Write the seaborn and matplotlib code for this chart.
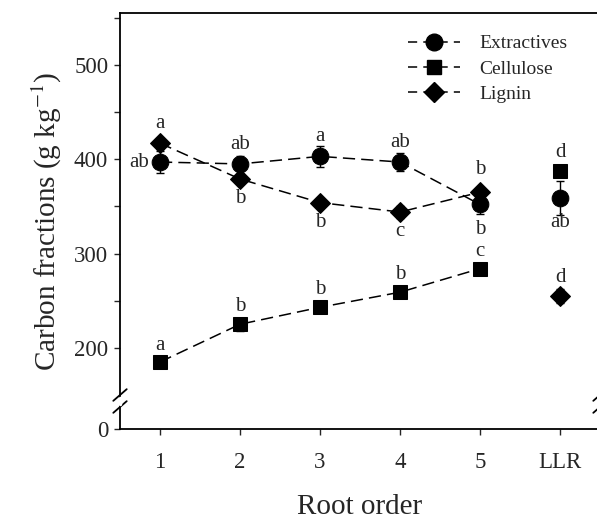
import numpy as np
import pandas as pd
import matplotlib
matplotlib.use("Agg")
import matplotlib.pyplot as plt
from matplotlib.lines import Line2D
import seaborn as sns

# ---- data ----
x_labels = ["1", "2", "3", "4", "5", "LLR"]
extractives = [397, 395, 403, 397, 352, 359]
extractives_err = [12, 8, 11, 10, 10, 18]
cellulose = [185, 225, 243, 259, 284, 387]
cellulose_err = [5, 7, 5, 5, 5, 4]
lignin = [417, 379, 354, 344, 365, 255]
lignin_err = [6, 5, 4, 6, 5, 7]
extractives_letters = ["ab", "ab", "a", "ab", "b", "ab"]
cellulose_letters = ["a", "b", "b", "b", "c", "d"]
lignin_letters = ["a", "b", "b", "c", "b", "d"]

# ---- style ----
sns.set_style("ticks")
plt.rcParams["font.family"] = ["Liberation Serif", "DejaVu Serif"]
plt.rcParams["mathtext.fontset"] = "stix"

x = np.arange(1, len(x_labels) + 1)
series = {
    "Extractives": (extractives, extractives_err, extractives_letters, "o", 12),
    "Cellulose": (cellulose, cellulose_err, cellulose_letters, "s", 10.5),
    "Lignin": (lignin, lignin_err, lignin_letters, "D", 10),
}

# label placement (dx, dy in points)
placement = {
    "Extractives": [(-15, 0), (0, 14), (0, 14), (0, 14), (0, -18), (0, -18)],
    "Cellulose": [(0, 12), (0, 13), (0, 13), (0, 13), (0, 12), (0, 14)],
    "Lignin": [(0, 14), (0, -14), (0, -14), (0, -14), (0, 16), (0, 13)],
}

# broken-axis scale
B, K = 145.0, 0.214
def fwd(y):
    y = np.asarray(y, dtype=float)
    return np.where(y >= B, y, B - (B - y) * K)
def inv(z):
    z = np.asarray(z, dtype=float)
    return np.where(z >= B, z, B - (B - z) / K)

fig = plt.figure(figsize=(5.97, 5.21), dpi=100)
ax = fig.add_axes([120 / 597, 92 / 521, 480 / 597, 416 / 521])
ax.set_yscale("function", functions=(fwd, inv))

dash = (8, 4)
for name, (vals, errs, letters, mk, ms) in series.items():
    df = pd.DataFrame({"x": x[:5], "y": vals[:5]})
    ax.errorbar(x, vals, yerr=errs, fmt="none", ecolor="black",
                elinewidth=1.0, capsize=3, capthick=1.0, zorder=2)
    sns.lineplot(data=df, x="x", y="y", ax=ax, color="black",
                 marker=mk, markersize=ms, markeredgecolor="black",
                 markerfacecolor="black", linewidth=1.1,
                 dashes=False, linestyle=(0, dash), zorder=3, legend=False)
    dfl = pd.DataFrame({"x": x[5:], "y": vals[5:]})
    sns.lineplot(data=dfl, x="x", y="y", ax=ax, color="black",
                 marker=mk, markersize=ms, markeredgecolor="black",
                 markerfacecolor="black", linewidth=0, zorder=3, legend=False)
    for xi, yi, lab, (dx, dy) in zip(x, vals, letters, placement[name]):
        ax.annotate(lab, (xi, yi), xytext=(dx, dy), textcoords="offset points",
                    ha="center", va="center", fontsize=15)

ax.set_xlim(0.5, 6.5)
ax.set_ylim(0, 555)
ax.set_xticks(x)
ax.set_xticklabels(x_labels)
ax.set_yticks([0, 200, 300, 400, 500])
ax.set_yticks([250, 350, 450, 550], minor=True)
ax.set_yticklabels(["0", "200", "300", "400", "500"])
ax.tick_params(axis="both", which="both", direction="out", length=4.5,
               width=1.0, labelsize=16.5)
ax.tick_params(axis="x", pad=12)
ax.tick_params(axis="y", pad=4)
for sp in ax.spines.values():
    sp.set_linewidth(1.3)
    sp.set_color("black")

ax.set_xlabel("Root order", fontsize=21, labelpad=15)
ax.set_ylabel("Carbon fractions (g kg$^{-1}$)", fontsize=21, labelpad=7)

# break marks on the y axis
for xa in (0.0, 1.0):
    for yc in (395, 407):
        yax = (429 - yc) / 416
        ax.plot([xa - 0.014, xa + 0.014], [yax - 0.014, yax + 0.014],
                transform=ax.transAxes, color="black", lw=1.3, clip_on=False)
    ax.plot([xa, xa], [(429 - 404) / 416, (429 - 398) / 416],
            transform=ax.transAxes, color="white", lw=2.5, clip_on=False,
            zorder=5)

handles = [
    Line2D([], [], color="black", linestyle=(0, (6, 4)), lw=1.1,
           marker=mk, markersize=ms, markerfacecolor="black")
    for (_, _, _, mk, ms) in series.values()
]
ax.legend(handles, list(series.keys()), loc="upper left",
          bbox_to_anchor=((398 - 120) / 480, 1 - 12 / 416),
          frameon=False, fontsize=14, handlelength=2.7,
          handletextpad=1.0, labelspacing=0.4, borderpad=0)

fig.savefig("out.png", dpi=100)
